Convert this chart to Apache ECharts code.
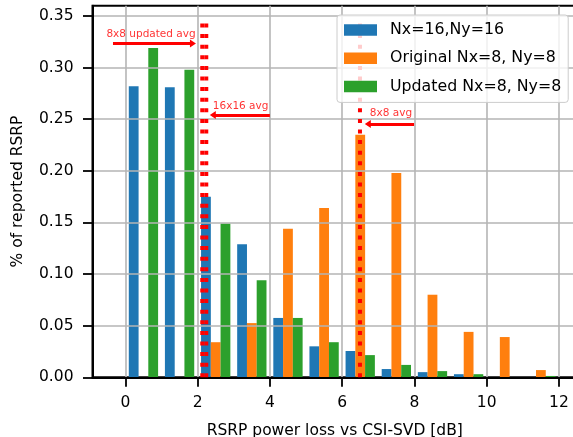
<!DOCTYPE html>
<html>
<head>
<meta charset="utf-8">
<script src="https://cdn.jsdelivr.net/npm/echarts@6/dist/echarts.min.js"></script>
<style>
  html, body { margin: 0; padding: 0; background: #fff; }
  #chart { width: 573px; height: 437px; }
</style>
</head>
<body>
<div id="chart"></div>
<script>
// Loss bins (dB) – each bin is 1 dB wide, bars sit around the bin centre
const binCentres = [0.5, 1.5, 2.5, 3.5, 4.5, 5.5, 6.5, 7.5, 8.5, 9.5, 10.5, 11.5];
const barStep = 0.27;

const seriesNames = ['Nx=16,Ny=16', 'Original Nx=8, Ny=8', 'Updated Nx=8, Ny=8'];
const nx16 = [0.282, 0.281, 0.175, 0.129, 0.0575, 0.030, 0.0255, 0.008, 0.005, 0.003, 0, 0];
const nx8Original = [0, 0, 0.034, 0.0525, 0.144, 0.164, 0.235, 0.198, 0.080, 0.044, 0.039, 0.007];
const nx8Updated = [0.319, 0.298, 0.149, 0.094, 0.0575, 0.034, 0.0215, 0.012, 0.006, 0.003, 0, 0.0013];

const xTicks = [0, 2, 4, 6, 8, 10, 12];
const yTicks = [0, 0.05, 0.10, 0.15, 0.20, 0.25, 0.30, 0.35];

// Average markers (dB)
const avgLines = [2.128, 2.239, 6.493];
const avgLineTop = 0.3456;

// Annotations: text, text anchor, arrow tail and arrow head
const noteTexts = ['8x8 updated avg', '16x16 avg', '8x8 avg'];
const noteTextPos = [[0.71, 0.3326], [3.19, 0.2628], [7.35, 0.2558]];
const noteArrowFrom = [[-0.343, 0.3233], [4.0, 0.2542], [7.99, 0.2455]];
const noteArrowTo = [[1.87, 0.3233], [2.42, 0.2542], [6.71, 0.2455]];

const colors = ['#1f77b4', '#ff7f0e', '#2ca02c'];
const FONT = 'DejaVu Sans';

function barSeries(name, values, offset, color) {
  return {
    name: name,
    type: 'bar',
    barWidth: 9.8,
    barGap: '-100%',
    itemStyle: { color: color },
    z: 2,
    data: values.map((v, i) => [binCentres[i] + offset, v])
  };
}

const series = [
  barSeries(seriesNames[0], nx16, -barStep, colors[0]),
  barSeries(seriesNames[1], nx8Original, 0, colors[1]),
  barSeries(seriesNames[2], nx8Updated, barStep, colors[2])
];

avgLines.forEach(x => {
  series.push({
    type: 'line',
    z: 6,
    silent: true,
    symbol: 'none',
    lineStyle: { color: '#ff0000', width: 4, type: [4, 6.6], cap: 'butt' },
    data: [[x, 0], [x, avgLineTop]]
  });
});

series.push({
  type: 'line',
  z: 6,
  silent: true,
  symbol: 'none',
  data: [],
  markLine: {
    silent: true,
    symbol: ['none', 'triangle'],
    symbolSize: [8, 6],
    lineStyle: { color: '#ff0000', width: 3, type: 'solid' },
    itemStyle: { color: '#ff0000' },
    label: { show: false },
    emphasis: { disabled: true },
    data: noteArrowFrom.map((p, i) => [{ coord: p }, { coord: noteArrowTo[i] }])
  }
});

series.push({
  type: 'scatter',
  z: 7,
  silent: true,
  symbolSize: 0,
  label: {
    show: true,
    position: 'inside',
    color: '#ff0000',
    fontFamily: FONT,
    fontSize: 10.5,
    formatter: p => noteTexts[p.dataIndex]
  },
  data: noteTextPos
});

const chart = echarts.init(document.getElementById('chart'), null, { renderer: 'canvas' });
chart.setOption({
  animation: false,
  backgroundColor: '#ffffff',
  textStyle: { fontFamily: FONT },
  grid: {
    left: 92.5, right: -4, top: 5.7, bottom: 59.7,
    outerBoundsMode: 'none',
    containLabel: false,
    show: true, borderColor: '#000', borderWidth: 2, backgroundColor: 'transparent'
  },
  legend: {
    orient: 'vertical',
    left: 337, top: 15,
    padding: [7, 7, 8, 7],
    itemGap: 12.2,
    itemWidth: 33,
    itemHeight: 11.5,
    icon: 'rect',
    backgroundColor: 'rgba(255,255,255,0.8)',
    borderColor: '#cccccc',
    borderWidth: 1,
    borderRadius: 3,
    z: 10,
    data: seriesNames,
    textStyle: { fontFamily: FONT, fontSize: 15.8, color: '#000', padding: [0, 0, 0, 8] }
  },
  xAxis: {
    type: 'value',
    min: -0.91, max: 12.5,
    z: 4,
    name: 'RSRP power loss vs CSI-SVD [dB]',
    nameLocation: 'middle',
    nameGap: 46,
    nameTextStyle: { fontFamily: FONT, fontSize: 15.5, color: '#000' },
    axisLine: { show: true, onZero: false, lineStyle: { color: '#000', width: 2 } },
    axisTick: { show: true, length: 9.5, lineStyle: { color: '#000', width: 1.8 }, customValues: xTicks },
    axisLabel: { margin: 18, fontFamily: FONT, fontSize: 15.5, color: '#000', customValues: xTicks },
    splitLine: { show: true, lineStyle: { color: '#b5b5b5', width: 1.6 } }
  },
  yAxis: {
    type: 'value',
    min: 0, max: 0.36,
    z: 4,
    name: '% of reported RSRP',
    nameLocation: 'middle',
    nameGap: 67,
    nameTextStyle: { fontFamily: FONT, fontSize: 15.5, color: '#000' },
    axisLine: { show: true, onZero: false, lineStyle: { color: '#000', width: 2 } },
    axisTick: { show: true, length: 9.5, lineStyle: { color: '#000', width: 1.8 }, customValues: yTicks },
    axisLabel: {
      margin: 19, fontFamily: FONT, fontSize: 15.5, color: '#000', customValues: yTicks,
      formatter: v => v.toFixed(2)
    },
    splitLine: { show: true, lineStyle: { color: '#b5b5b5', width: 1.6 } }
  },
  series: series
});
</script>
</body>
</html>
